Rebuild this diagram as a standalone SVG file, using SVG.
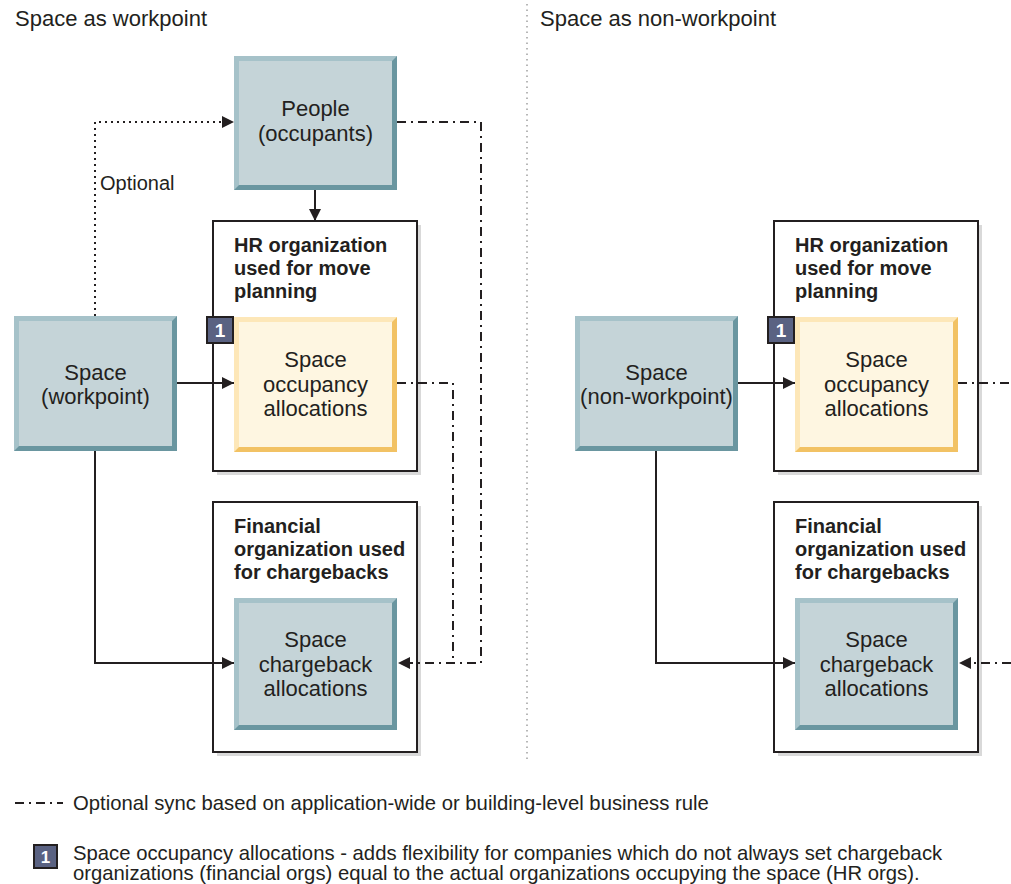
<svg xmlns="http://www.w3.org/2000/svg" width="1011" height="884" viewBox="0 0 1011 884">
<style>
text{font-family:"Liberation Sans",Arial,sans-serif;fill:#231f20}
.t{font-size:22px}
.lbl{font-size:22px;text-anchor:middle}
.b{font-size:20px;font-weight:bold}
.opt{font-size:20px}
.leg{font-size:20.3px}
.tdk{fill:#6a96a0}.tlt{fill:#a6c2c9}.tin{fill:#c5d4d8}
.ydk{fill:#f2c264}.ylt{fill:#fde7b8}.yin{fill:#fef6e1}
.cont{fill:#fff;stroke:#231f20;stroke-width:2}
.shd{fill:#d9d9d9}
.badge{fill:#5a6282;stroke:#231f20;stroke-width:2}
.bt{font-size:19px;font-weight:bold;fill:#fff;text-anchor:middle}
.ln{fill:none;stroke:#231f20;stroke-width:2}
.dot{fill:none;stroke:#231f20;stroke-width:2;stroke-dasharray:2,4}
.dd{fill:none;stroke:#231f20;stroke-width:2;stroke-dasharray:9,5,2,5}
.div{fill:none;stroke:#a0a0a0;stroke-width:1.5;stroke-dasharray:1.5,4}
</style>
<defs>
<marker id="ah" viewBox="0 0 12 12" refX="12" refY="6" markerWidth="12" markerHeight="12" markerUnits="userSpaceOnUse" orient="auto">
<path d="M0,0 L12,6 L0,12 Z" fill="#231f20"/>
</marker>
</defs>

<g id="titles">
<text class="t" x="15" y="26">Space as workpoint</text>
<text class="t" x="540" y="26">Space as non-workpoint</text>
<path class="div" d="M527,4 V760"/>
</g>

<g id="hr-left">
<rect class="shd" x="217" y="225" width="204" height="250"/>
<rect class="cont" x="213" y="221" width="204" height="250"/>
<text class="b" x="234" y="252">HR organization</text>
<text class="b" x="234" y="275">used for move</text>
<text class="b" x="234" y="298">planning</text>
</g>
<g id="fin-left">
<rect class="shd" x="217" y="506" width="204" height="250"/>
<rect class="cont" x="213" y="502" width="204" height="250"/>
<text class="b" x="234" y="533">Financial</text>
<text class="b" x="234" y="556">organization used</text>
<text class="b" x="234" y="579">for chargebacks</text>
</g>
<g id="hr-right">
<rect class="shd" x="778" y="225" width="204" height="250"/>
<rect class="cont" x="774" y="221" width="204" height="250"/>
<text class="b" x="795" y="252">HR organization</text>
<text class="b" x="795" y="275">used for move</text>
<text class="b" x="795" y="298">planning</text>
</g>
<g id="fin-right">
<rect class="shd" x="778" y="506" width="204" height="250"/>
<rect class="cont" x="774" y="502" width="204" height="250"/>
<text class="b" x="795" y="533">Financial</text>
<text class="b" x="795" y="556">organization used</text>
<text class="b" x="795" y="579">for chargebacks</text>
</g>

<g id="people">
<rect class="tdk" x="234" y="56" width="163" height="134"/>
<polygon class="tlt" points="234,56 397,56 392,61 239,61 239,185 234,190"/>
<rect class="tin" x="239" y="61" width="153" height="124"/>
<text class="lbl" x="315.5" y="116">People</text>
<text class="lbl" x="315.5" y="141">(occupants)</text>
</g>

<g id="space-workpoint">
<rect class="tdk" x="14" y="316" width="163" height="135"/>
<polygon class="tlt" points="14,316 177,316 172,321 19,321 19,446 14,451"/>
<rect class="tin" x="19" y="321" width="153" height="125"/>
<text class="lbl" x="95.5" y="380">Space</text>
<text class="lbl" x="95.5" y="404">(workpoint)</text>
</g>

<g id="occupancy-left">
<rect class="ydk" x="234" y="317" width="163" height="135"/>
<polygon class="ylt" points="234,317 397,317 392,322 239,322 239,447 234,452"/>
<rect class="yin" x="239" y="322" width="153" height="125"/>
<text class="lbl" x="315.5" y="367">Space</text>
<text class="lbl" x="315.5" y="391.5">occupancy</text>
<text class="lbl" x="315.5" y="416">allocations</text>
</g>
<g id="badge-left">
<rect class="badge" x="207" y="317" width="26" height="26"/>
<text class="bt" x="220" y="337">1</text>
</g>

<g id="chargeback-left">
<rect class="tdk" x="234" y="598" width="163" height="132"/>
<polygon class="tlt" points="234,598 397,598 392,603 239,603 239,725 234,730"/>
<rect class="tin" x="239" y="603" width="153" height="122"/>
<text class="lbl" x="315.5" y="647">Space</text>
<text class="lbl" x="315.5" y="671.5">chargeback</text>
<text class="lbl" x="315.5" y="696">allocations</text>
</g>

<g id="space-nonworkpoint">
<rect class="tdk" x="575" y="316" width="163" height="135"/>
<polygon class="tlt" points="575,316 738,316 733,321 580,321 580,446 575,451"/>
<rect class="tin" x="580" y="321" width="153" height="125"/>
<text class="lbl" x="656.5" y="380">Space</text>
<text class="lbl" x="656.5" y="404">(non-workpoint)</text>
</g>

<g id="occupancy-right">
<rect class="ydk" x="795" y="317" width="163" height="135"/>
<polygon class="ylt" points="795,317 958,317 953,322 800,322 800,447 795,452"/>
<rect class="yin" x="800" y="322" width="153" height="125"/>
<text class="lbl" x="876.5" y="367">Space</text>
<text class="lbl" x="876.5" y="391.5">occupancy</text>
<text class="lbl" x="876.5" y="416">allocations</text>
</g>
<g id="badge-right">
<rect class="badge" x="768" y="317" width="26" height="26"/>
<text class="bt" x="781" y="337">1</text>
</g>

<g id="chargeback-right">
<rect class="tdk" x="795" y="598" width="163" height="132"/>
<polygon class="tlt" points="795,598 958,598 953,603 800,603 800,725 795,730"/>
<rect class="tin" x="800" y="603" width="153" height="122"/>
<text class="lbl" x="876.5" y="647">Space</text>
<text class="lbl" x="876.5" y="671.5">chargeback</text>
<text class="lbl" x="876.5" y="696">allocations</text>
</g>

<g id="connectors">
<path class="ln" d="M315,190 V221" marker-end="url(#ah)"/>
<path class="dot" d="M95,316 V122 H222"/>
<path d="M222,116 L234,122 L222,128 Z" fill="#231f20"/>
<text class="opt" x="100" y="190">Optional</text>
<path class="ln" d="M177,383 H234" marker-end="url(#ah)"/>
<path class="ln" d="M95,451 V663 H234" marker-end="url(#ah)"/>
<path class="dd" d="M397,122 H481 V663 H410"/>
<path d="M410,657 L398,663 L410,669 Z" fill="#231f20"/>
<path class="dd" d="M397,383 H453 V663"/>
<path class="ln" d="M738,383 H795" marker-end="url(#ah)"/>
<path class="ln" d="M656,451 V663 H795" marker-end="url(#ah)"/>
<path class="dd" d="M958,383 H1011"/>
<path class="dd" d="M1011,663 H971"/>
<path d="M971,657 L959,663 L971,669 Z" fill="#231f20"/>
</g>

<g id="legend">
<path class="dd" d="M15,803 H63"/>
<text class="leg" x="73" y="810">Optional sync based on application-wide or building-level business rule</text>
<rect class="badge" x="34" y="845" width="23" height="23"/>
<text class="bt" x="45.5" y="863" style="font-size:17px">1</text>
<text class="leg" x="73" y="860">Space occupancy allocations - adds flexibility for companies which do not always set chargeback</text>
<text class="leg" x="73" y="880">organizations (financial orgs) equal to the actual organizations occupying the space (HR orgs).</text>
</g>
</svg>
